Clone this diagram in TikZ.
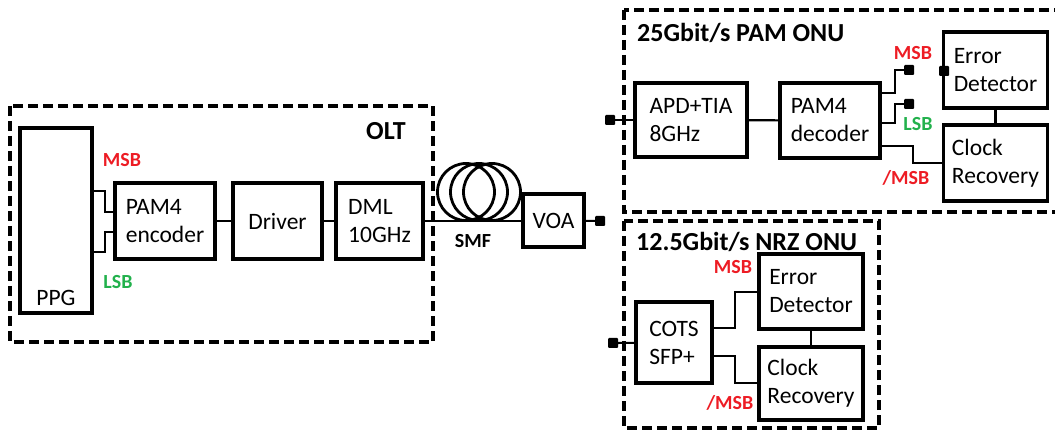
\documentclass[tikz,border=0pt]{standalone}
\usepackage{fontspec}
\setmainfont{Carlito}
\usetikzlibrary{calc}
\definecolor{BitRojo}{RGB}{237,28,36}
\definecolor{BitVerde}{RGB}{34,177,76}
\tikzset{
  blkbox/.style={draw, line width=3.1pt, align=left, inner sep=0pt,
    font=\fontsize{23.5}{28}\selectfont},
  zonebox/.style={draw, line width=3.1pt, dash pattern=on 10pt off 5pt},
  zonetitle/.style={anchor=west, inner sep=0pt, font=\bfseries\fontsize{26}{30}\selectfont},
  wire/.style={line width=2.1pt},
  portsq/.style={fill=black, rounded corners=1pt, minimum size=10pt, inner sep=0pt},
  msblbl/.style={inner sep=0pt, text=BitRojo, font=\bfseries\fontsize{20}{24}\selectfont},
  lsblbl/.style={msblbl, text=BitVerde},
}
\begin{document}
\begin{tikzpicture}[x=1pt, y=-1pt]
  \useasboundingbox (0,0) rectangle (1055,430);

  % ---- OLT ----
  \draw[zonebox] (10,106) rectangle (433,342);
  \node[zonetitle, anchor=center] (olt) at (386,131) {OLT};
  \node[blkbox, minimum width=72, minimum height=185,
    label={[anchor=south, inner sep=0pt, yshift=9pt, font=\fontsize{23.5}{28}\selectfont]south:PPG}] (ppg) at (56,220.5) {};
  \node[blkbox, minimum width=100, minimum height=76] (enc) at (165,221) {PAM4\\encoder};
  \node[blkbox, minimum width=89, minimum height=76] (drv) at (277.5,221) {Driver};
  \node[blkbox, minimum width=87, minimum height=76] (dml) at (379.5,221) {DML\\10GHz};
  \node[msblbl] (msb0) at (122,160) {MSB};
  \node[lsblbl] (lsb0) at (118,282) {LSB};

  % ---- fibra y VOA ----
  \foreach \cx in {466,479,492}
    \draw[line width=2.8pt] (\cx,192) circle (28.5);
  \node[font=\bfseries\fontsize{20}{24}\selectfont, inner sep=0pt] (smf) at (473,241) {SMF};
  \node[blkbox, minimum width=61, minimum height=53] (voa) at (553.5,220.5) {VOA};
  \node[portsq] (pvoa) at (600,221) {};

  % ---- 25G PAM ONU ----
  \draw[zonebox] (624,10) rectangle (1062,212);
  \node[zonetitle] (pamttl) at (637,33) {25Gbit/s PAM ONU};
  \node[portsq] (pin1) at (610,120) {};
  \node[blkbox, minimum width=112, minimum height=74] (apd) at (691,120) {APD+TIA\\8GHz};
  \node[blkbox, minimum width=100, minimum height=75] (dec) at (830,120.5) {PAM4\\decoder};
  \node[blkbox, minimum width=104, minimum height=76] (ed1) at (995.5,70) {Error\\Detector};
  \node[blkbox, minimum width=104, minimum height=76] (cr1) at (995.5,163) {Clock\\Recovery};
  \node[portsq] (pmsb) at (909,70) {};
  \node[portsq] (plsb) at (909,104) {};
  \node[portsq] (ped) at (944,71) {};
  \node[msblbl] (msb1) at (913,53) {MSB};
  \node[lsblbl] (lsb1) at (918,124) {LSB};
  \node[msblbl] (nmsb1) at (906,178) {/MSB};

  % ---- 12.5G NRZ ONU ----
  \draw[zonebox] (624,221) rectangle (879,428);
  \node[zonetitle] (nrzttl) at (636,242) {12.5Gbit/s NRZ ONU};
  \node[portsq] (pin2) at (613,343) {};
  \node[blkbox, minimum width=76, minimum height=81] (cots) at (674,342.5) {COTS\\SFP+};
  \node[blkbox, minimum width=104, minimum height=75] (ed2) at (811,291.5) {Error\\Detector};
  \node[blkbox, minimum width=104, minimum height=73] (cr2) at (811,383.5) {Clock\\Recovery};
  \node[msblbl] (msb2) at (733,267) {MSB};
  \node[msblbl] (nmsb2) at (730,403) {/MSB};

  % ---- conexiones ----
  \draw[wire] (ppg.east |- 0,191) -| (105,212) -- (enc.west |- 0,212);
  \draw[wire] (ppg.east |- 0,252) -| (105,232) -- (enc.west |- 0,232);
  \draw[wire] (enc) -- (drv);
  \draw[wire] (drv) -- (dml);
  \draw[wire] (dml.east) -- (voa.west |- dml.east);
  \draw[wire] (voa) -- (pvoa);

  \draw[wire] (pin1) -- (apd);
  \draw[wire] (apd) -- (dec);
  \draw[wire] (dec.east |- 0,93) -| (895,70) -- (pmsb);
  \draw[wire] (dec.east |- 0,123) -| (895,104) -- (plsb);
  \draw[wire] (dec.east |- 0,146) -| (913,163) -- (cr1.west |- 0,163);
  \draw[wire] (ed1) -- (cr1);

  \draw[wire] (pin2) -- (cots);
  \draw[wire] (cots.east |- 0,328) -| (735,292) -- (ed2.west |- 0,292);
  \draw[wire] (cots.east |- 0,356) -| (735,383) -- (cr2.west |- 0,383);
  \draw[wire] (ed2) -- (cr2);
\end{tikzpicture}
\end{document}
